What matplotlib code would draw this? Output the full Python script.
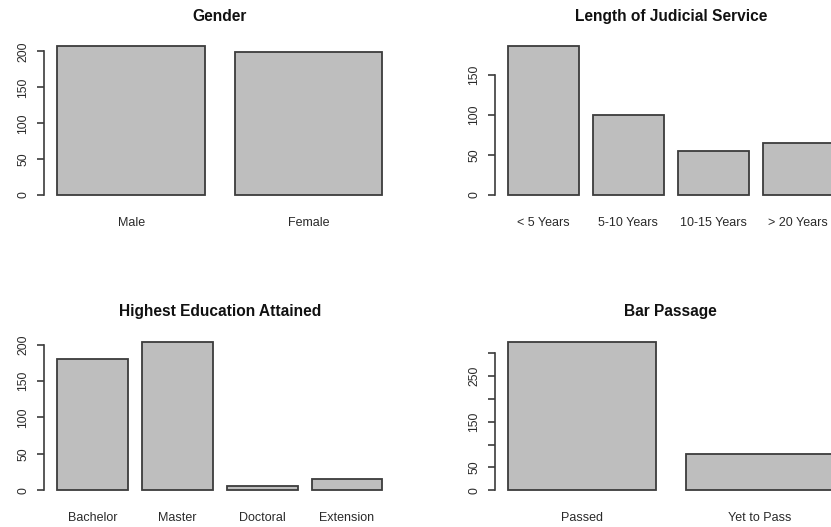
import matplotlib
matplotlib.use("Agg")
import matplotlib.pyplot as plt
import numpy as np

plt.rcParams['font.family'] = ['Liberation Sans', 'DejaVu Sans']

# Survey response counts
gender_labels = ["Male", "Female"]
gender_counts = [207, 199]

service_labels = ["< 5 Years", "5-10 Years", "10-15 Years", "> 20 Years"]
service_counts = [186, 100, 55, 65]

education_labels = ["Bachelor", "Master", "Doctoral", "Extension"]
education_counts = [180, 204, 6, 16]

bar_labels = ["Passed", "Yet to Pass"]
bar_counts = [326, 80]

gender_ticks = [0, 50, 100, 150, 200]
service_ticks = [0, 50, 100, 150]
education_ticks = [0, 50, 100, 150, 200]
bar_ticks = [0, 50, 100, 150, 200, 250, 300]
bar_ticklabels = ["0", "50", "", "150", "", "250", ""]

W, H = 831, 527
fig = plt.figure(figsize=(W / 100, H / 100), dpi=100)

TEXT = "#2a2a2a"
EDGE = "#3c3c3c"
FILL = "#bebebe"


def panel(rect, title, labels, counts, ticks, ticklabels=None):
    ax = fig.add_axes(rect)
    n = len(counts)
    centers = 0.7 + 1.2 * np.arange(n)
    ax.bar(centers, counts, width=1.0, color=FILL, edgecolor=EDGE,
           linewidth=1.3, clip_on=False)
    span = 1.2 * n - 0.2
    ax.set_xlim(0.2 - 0.04 * span, 1.2 * n + 0.04 * span)
    top = max(counts)
    ax.set_ylim(-0.04 * top, 1.04 * top)
    for s in ("top", "right", "bottom"):
        ax.spines[s].set_visible(False)
    ax.spines["left"].set_bounds(ticks[0], ticks[-1])
    ax.spines["left"].set_color(EDGE)
    ax.spines["left"].set_linewidth(1.2)
    ax.set_yticks(ticks)
    ax.set_yticklabels(ticklabels if ticklabels else [str(t) for t in ticks],
                       rotation=90, va="center", ha="right")
    ax.tick_params(axis="y", length=5, width=1.2, color=EDGE, pad=6,
                   labelsize=8.8, labelcolor=TEXT)
    ax.set_xticks(centers)
    ax.set_xticklabels(labels)
    ax.tick_params(axis="x", length=0, pad=11.5, labelsize=9.0,
                   labelcolor=TEXT)
    ax.set_title(title, fontsize=11.2, fontweight="bold", color="#111111",
                 pad=14)
    return ax


lx, rx = 44.3 / W, 495.3 / W
cw = 351.0 / W
ty = (H - 201.0) / H
by = (H - 496.2) / H
rh = 160.5 / H

panel([lx, ty, cw, rh], "Gender", gender_labels, gender_counts, gender_ticks)
panel([rx, ty, cw, rh], "Length of Judicial Service", service_labels,
      service_counts, service_ticks)
panel([lx, by, cw, rh], "Highest Education Attained", education_labels,
      education_counts, education_ticks)
panel([rx, by, cw, rh], "Bar Passage", bar_labels, bar_counts, bar_ticks,
      bar_ticklabels)

fig.savefig("out.png", dpi=100)
